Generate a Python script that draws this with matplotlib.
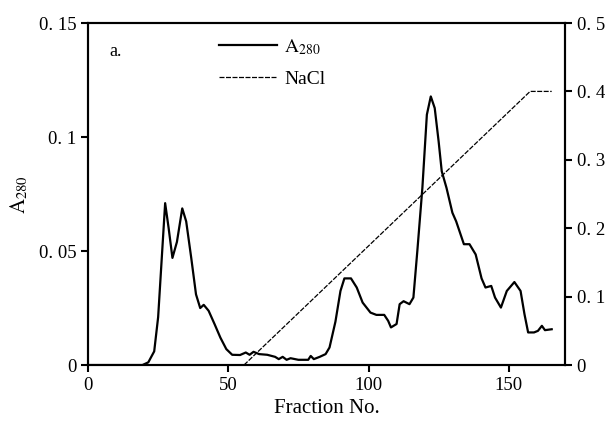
import matplotlib
matplotlib.use("Agg")
import matplotlib.pyplot as plt

plt.rcParams['font.family'] = ['Liberation Serif', 'DejaVu Serif']
plt.rcParams['mathtext.fontset'] = 'stix'

# A280 profile
frac = [0, 19.4, 21.5, 23.6, 25, 26.1, 27.5, 28.75, 30.1, 31.7, 33.6, 35, 36.8, 38.5, 40,
        41.25, 43, 45.1, 47.2, 49.3, 51.4, 54.2, 56.25, 57.6, 59, 61, 63.9, 66.7, 68,
        69.4, 70.8, 72.2, 75, 78.5, 79.4, 80.5, 82.6, 84.7, 86.1, 88.2, 90, 91.4, 93.75,
        95.8, 97.9, 100.7, 102.8, 105.6, 107, 108, 110, 111.1, 112.5, 114.6, 116, 117.4,
        119.2, 120.8, 122.2, 123.6, 125, 126.1, 127.8, 129.9, 131.25, 134, 136, 138.2,
        140.3, 141.7, 143.75, 145.1, 147.2, 149.3, 152, 154.2, 155.6, 156.9, 159, 160.4,
        161.8, 162.9, 165.3]
a280 = [0, 0, 0.0012, 0.006, 0.021, 0.043, 0.071, 0.060, 0.047, 0.054, 0.0687, 0.063,
        0.047, 0.031, 0.025, 0.0264, 0.0238, 0.018, 0.012, 0.007, 0.0045, 0.0044, 0.0055,
        0.0045, 0.0058, 0.0048, 0.0045, 0.0036, 0.0026, 0.0036, 0.0023, 0.003, 0.0023,
        0.0023, 0.004, 0.0026, 0.0036, 0.0048, 0.0077, 0.019, 0.0325, 0.038, 0.038,
        0.034, 0.0274, 0.023, 0.022, 0.022, 0.0194, 0.0165, 0.018, 0.0267, 0.028, 0.0267,
        0.0296, 0.05, 0.0777, 0.1098, 0.1178, 0.1127, 0.098, 0.085, 0.0777, 0.0668, 0.063,
        0.053, 0.053, 0.0485, 0.038, 0.034, 0.0347, 0.0296, 0.0252, 0.0325, 0.0364,
        0.0325, 0.0223, 0.0143, 0.0143, 0.015, 0.0172, 0.0153, 0.0157]

# NaCl gradient
nacl_x = [55.6, 157.6, 165.3]
nacl_y = [0, 0.4, 0.4]

left_ticks = [0, 0.05, 0.1, 0.15]
left_labels = ['0', '0. 05', '0. 1', '0. 15']
right_ticks = [0, 0.1, 0.2, 0.3, 0.4, 0.5]
right_labels = ['0', '0. 1', '0. 2', '0. 3', '0. 4', '0. 5']

fig = plt.figure(figsize=(6.12, 4.23), dpi=100)
ax = fig.add_axes([0.1438, 0.137, 0.7792, 0.8086])
ax2 = ax.twinx()

l1, = ax.plot(frac, a280, color='black', lw=1.6, solid_joinstyle='round')
l2, = ax2.plot(nacl_x, nacl_y, color='black', lw=0.9, linestyle=(0, (4, 1.2)))

ax.set_xlim(0, 170)
ax.set_ylim(0, 0.15)
ax2.set_ylim(0, 0.5)
ax.set_xticks([0, 50, 100, 150])
ax.set_yticks(left_ticks)
ax.set_yticklabels(left_labels)
ax2.set_yticks(right_ticks)
ax2.set_yticklabels(right_labels)

for a in (ax, ax2):
    for s in a.spines.values():
        s.set_linewidth(1.5)
    a.tick_params(direction='out', length=5, width=1.5, labelsize=13.5)

ax.set_xlabel('Fraction No.', fontsize=15, labelpad=4)
ax.set_ylabel(r'$\mathrm{A}_{280}$', fontsize=15, labelpad=6)
ax.text(0.045, 0.905, 'a.', transform=ax.transAxes, fontsize=13)

ax.legend([l1, l2], [r'$\mathrm{A}_{280}$', 'NaCl'], loc='upper left',
          bbox_to_anchor=(0.238, 1.01), frameon=False, handlelength=3.0,
          handletextpad=0.35, fontsize=14, labelspacing=0.7)

fig.savefig('out.png', dpi=100)
